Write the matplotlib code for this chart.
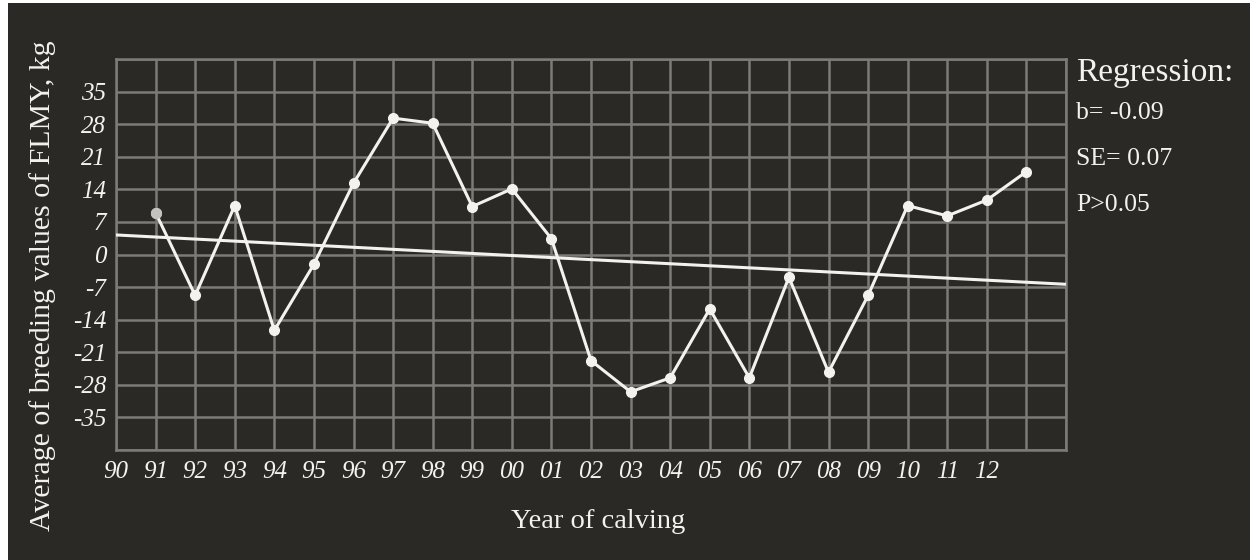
import matplotlib
matplotlib.use("Agg")
import matplotlib.pyplot as plt
from matplotlib.patches import Rectangle

# Average breeding values of FLMY (kg) by year of calving
years = list(range(1991, 2014))
flmy = [9.0, -8.8, 10.5, -16.3, -2.1, 15.3, 29.3, 28.2, 10.3, 14.1, 3.4,
        -22.8, -29.5, -26.5, -11.7, -26.5, -4.9, -25.3, -8.8, 10.5, 8.3,
        11.7, 17.8]

# Linear trend endpoints over the full axis span
trend_years = [1990, 2014]
trend_values = [4.2, -6.4]

# Axis ticks
x_ticks = list(range(1990, 2015))
x_labels = [f"{y % 100:02d}" for y in range(1990, 2013)] + ["", ""]
y_ticks = [-42, -35, -28, -21, -14, -7, 0, 7, 14, 21, 28, 35, 42]
y_labels = ["", "-35", "-28", "-21", "-14", "-7", "0", "7", "14", "21", "28", "35", ""]

regression_lines = ["b= -0.09", "SE= 0.07", "P>0.05"]

BG = "#2b2925"
GRID = "#7d7b77"
FG = "#f4f2ee"
SERIF = ["Liberation Serif", "DejaVu Serif"]

W, H = 1250, 560
fig = plt.figure(figsize=(W / 100, H / 100), dpi=100, facecolor="white")
fig.patches.append(Rectangle((8 / W, 0), 1 - 8 / W, 1 - 3 / H,
                             transform=fig.transFigure, facecolor=BG,
                             edgecolor="none", zorder=-10))

ax = fig.add_axes([116 / W, 1 - 450 / H, (1066 - 116) / W, (450 - 59) / H])
ax.set_facecolor(BG)
ax.set_xlim(1990, 2014)
ax.set_ylim(-42, 42)

ax.set_xticks(x_ticks)
ax.set_xticklabels(x_labels, family=SERIF, style="italic", fontsize=18, color=FG)
ax.set_yticks(y_ticks)
ax.set_yticklabels(y_labels, family=SERIF, style="italic", fontsize=18, color=FG)
ax.tick_params(axis="y", length=0, pad=7)
ax.tick_params(axis="x", length=0, pad=8)
ax.grid(True, color=GRID, linewidth=1.8)
ax.set_axisbelow(True)
for sp in ax.spines.values():
    sp.set_color(GRID)
    sp.set_linewidth(1.8)

ax.plot(trend_years, trend_values, color=FG, linewidth=2.2, zorder=3,
        clip_on=False, solid_capstyle="butt")
ax.plot(years, flmy, color=FG, linewidth=2.2, marker="o", markersize=7,
        markerfacecolor=FG, markeredgecolor=FG, zorder=4)
ax.plot(years[:1], flmy[:1], linestyle="none", marker="o", markersize=7,
        color="#c4c2bd", zorder=5)

fig.text(598 / W, 1 - 522 / H, "Year of calving", family=SERIF, fontsize=20.5,
         color=FG, ha="center", va="center")
fig.text(43 / W, 1 - 286 / H, "Average of breeding values of FLMY, kg",
         family=SERIF, fontsize=21.5, color=FG, rotation=90,
         ha="center", va="center")

fig.text(1076 / W, 1 - 73 / H, "Regression:", family=SERIF, fontsize=24,
         color=FG, ha="left", va="center")
for i, line in enumerate(regression_lines):
    fig.text(1076 / W, 1 - (113 + 46 * i) / H, line, family=SERIF,
             fontsize=18.5, color=FG, ha="left", va="center")

fig.savefig("out.png", dpi=100, facecolor="white")
